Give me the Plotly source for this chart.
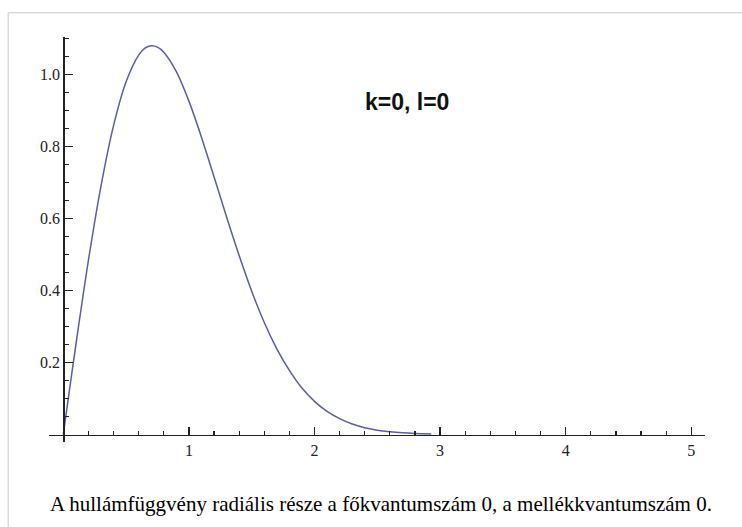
import plotly.graph_objects as go

# ---- data ----
r_values = [0.0, 0.05, 0.1, 0.15, 0.2, 0.3, 0.4, 0.5, 0.6, 0.65, 0.7, 0.75,
            0.8, 0.9, 1.0, 1.1, 1.2, 1.3, 1.4, 1.5, 1.6, 1.7, 1.8, 1.9, 2.0,
            2.1, 2.2, 2.3, 2.4, 2.5, 2.6, 2.7, 2.8, 2.93]
psi_values = [0.0, 0.126, 0.249, 0.369, 0.484, 0.690, 0.858, 0.980, 1.054,
              1.073, 1.080, 1.076, 1.062, 1.008, 0.926, 0.826, 0.716, 0.604,
              0.497, 0.398, 0.311, 0.238, 0.178, 0.129, 0.092, 0.064, 0.044,
              0.029, 0.019, 0.012, 0.0076, 0.0046, 0.0028, 0.0014]
x_major = [1, 2, 3, 4, 5]
x_major_labels = ["1", "2", "3", "4", "5"]
x_minor = [0.2, 0.4, 0.6, 0.8, 1.2, 1.4, 1.6, 1.8, 2.2, 2.4, 2.6, 2.8,
           3.2, 3.4, 3.6, 3.8, 4.2, 4.4, 4.6, 4.8]
y_major = [0.2, 0.4, 0.6, 0.8, 1.0]
y_major_labels = ["0.2", "0.4", "0.6", "0.8", "1.0"]
y_minor = [0.05, 0.1, 0.15, 0.25, 0.3, 0.35, 0.45, 0.5, 0.55, 0.65, 0.7,
           0.75, 0.85, 0.9, 0.95, 1.05, 1.1]
plot_label = "k=0, l=0"
caption = "A hullámfüggvény radiális része a főkvantumszám 0, a mellékkvantumszám 0."

# ---- layout geometry (pixels) ----
W, H = 742, 527
px_left, px_right = 49, 705
px_top, px_bottom = 36.7, 441.7
x_zero_px, x_unit = 63.3, 125.6
y_zero_px, y_unit = 434.5, 360.0

x_range = [(px_left - x_zero_px) / x_unit, (px_right - x_zero_px) / x_unit]
y_range = [(y_zero_px - px_bottom) / y_unit, (y_zero_px - px_top) / y_unit]

axis_col = "#222222"

fig = go.Figure()
fig.add_trace(go.Scatter(
    x=r_values, y=psi_values, mode="lines",
    line=dict(color="#5b5bab", width=1.5, shape="spline", smoothing=0.8),
    hoverinfo="skip", showlegend=False))

fig.update_layout(
    width=W, height=H,
    margin=dict(l=0, r=0, t=0, b=0),
    paper_bgcolor="white", plot_bgcolor="white",
    showlegend=False,
    xaxis=dict(
        domain=[px_left / W, px_right / W], range=x_range,
        anchor="free", position=1 - y_zero_px / H,
        showline=True, linecolor=axis_col, linewidth=1.3,
        showgrid=False, zeroline=False,
        tickmode="array", tickvals=x_major, ticktext=x_major_labels,
        ticks="inside", ticklen=8, tickwidth=1.3, tickcolor=axis_col,
        ticklabelstandoff=1,
        tickfont=dict(family="Liberation Serif", size=16, color="#222222"),
        minor=dict(tickmode="array", tickvals=x_minor, ticks="inside",
                   ticklen=4, tickwidth=1.2, tickcolor=axis_col, showgrid=False),
        fixedrange=True,
    ),
    yaxis=dict(
        domain=[1 - px_bottom / H, 1 - px_top / H], range=y_range,
        anchor="free", position=x_zero_px / W,
        showline=True, linecolor=axis_col, linewidth=1.3,
        showgrid=False, zeroline=False,
        tickmode="array", tickvals=y_major, ticktext=y_major_labels,
        ticks="inside", ticklen=8, tickwidth=1.3, tickcolor=axis_col,
        ticklabelstandoff=0,
        tickfont=dict(family="Liberation Serif", size=16, color="#222222"),
        minor=dict(tickmode="array", tickvals=y_minor, ticks="inside",
                   ticklen=4, tickwidth=1.2, tickcolor=axis_col, showgrid=False),
        fixedrange=True,
    ),
    shapes=[
        dict(type="line", xref="paper", yref="paper",
             x0=8.3 / W, x1=1.0, y0=1 - 12.7 / H, y1=1 - 12.7 / H,
             line=dict(color="#d9d9d9", width=1.5)),
        dict(type="line", xref="paper", yref="paper",
             x0=8.3 / W, x1=8.3 / W, y0=0.0, y1=1 - 12.7 / H,
             line=dict(color="#d9d9d9", width=1.5)),
    ],
    annotations=[
        dict(text="<b>" + plot_label + "</b>", xref="paper", yref="paper",
             x=407 / W, y=1 - 102.5 / H, xanchor="center", yanchor="middle",
             showarrow=False,
             font=dict(family="Liberation Sans", size=23, color="#111111")),
        dict(text=caption, xref="paper", yref="paper",
             x=380.5 / W, y=1 - 504 / H, xanchor="center", yanchor="middle",
             showarrow=False,
             font=dict(family="Liberation Serif", size=21, color="#000000")),
    ],
)

fig.write_html("out.html", config={"displayModeBar": False, "staticPlot": True},
               post_script="document.body.style.margin='0';"
                           "document.body.style.overflow='hidden';")
